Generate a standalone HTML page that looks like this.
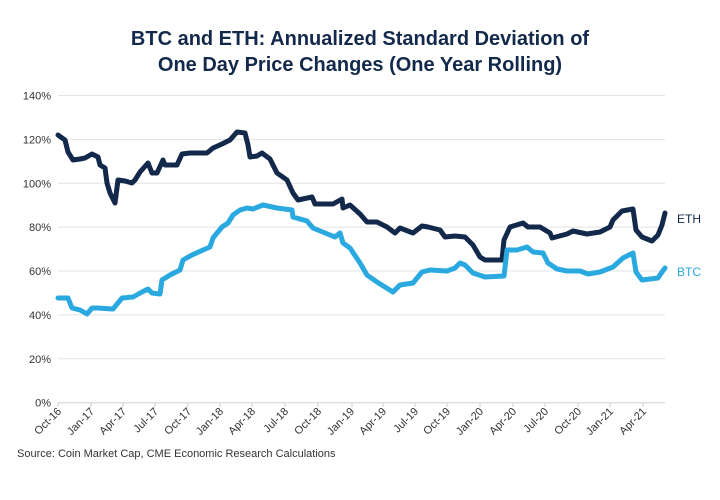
<!DOCTYPE html>
<html><head><meta charset="utf-8"><style>
body{margin:0;background:#fff;}
svg{display:block;font-family:"Liberation Sans",sans-serif;}
</style></head><body>
<svg width="720" height="500" viewBox="0 0 720 500">
<text x="360" y="45" text-anchor="middle" font-size="20" font-weight="bold" fill="#13294b">BTC and ETH: Annualized Standard Deviation of</text>
<text x="360" y="71" text-anchor="middle" font-size="20" font-weight="bold" fill="#13294b">One Day Price Changes (One Year Rolling)</text>
<g stroke="#e3e3e3" stroke-width="1">
<line x1="58" x2="665" y1="95.5" y2="95.5"/><line x1="58" x2="665" y1="139.4" y2="139.4"/>
<line x1="58" x2="665" y1="183.3" y2="183.3"/><line x1="58" x2="665" y1="227.1" y2="227.1"/>
<line x1="58" x2="665" y1="271" y2="271"/><line x1="58" x2="665" y1="314.9" y2="314.9"/>
<line x1="58" x2="665" y1="358.8" y2="358.8"/><line x1="58" x2="665" y1="402.7" y2="402.7" stroke="#d0d0d0"/>
</g>
<g font-size="11" fill="#333" text-anchor="end">
<text x="51" y="99.5">140%</text><text x="51" y="143.4">120%</text><text x="51" y="187.3">100%</text>
<text x="51" y="231.1">80%</text><text x="51" y="275">60%</text><text x="51" y="318.9">40%</text>
<text x="51" y="362.8">20%</text><text x="51" y="406.7">0%</text>
</g>
<g stroke="#ccc" stroke-width="1" id="ticks"></g>
<g font-size="11" fill="#333" text-anchor="end">
<text transform="translate(62,412) rotate(-45)">Oct-16</text>
<text transform="translate(95,412) rotate(-45)">Jan-17</text>
<text transform="translate(127,412) rotate(-45)">Apr-17</text>
<text transform="translate(159,412) rotate(-45)">Jul-17</text>
<text transform="translate(192,412) rotate(-45)">Oct-17</text>
<text transform="translate(224,412) rotate(-45)">Jan-18</text>
<text transform="translate(256,412) rotate(-45)">Apr-18</text>
<text transform="translate(289,412) rotate(-45)">Jul-18</text>
<text transform="translate(322,412) rotate(-45)">Oct-18</text>
<text transform="translate(355,412) rotate(-45)">Jan-19</text>
<text transform="translate(387,412) rotate(-45)">Apr-19</text>
<text transform="translate(419,412) rotate(-45)">Jul-19</text>
<text transform="translate(451,412) rotate(-45)">Oct-19</text>
<text transform="translate(484,412) rotate(-45)">Jan-20</text>
<text transform="translate(517,412) rotate(-45)">Apr-20</text>
<text transform="translate(549,412) rotate(-45)">Jul-20</text>
<text transform="translate(582,412) rotate(-45)">Oct-20</text>
<text transform="translate(614,412) rotate(-45)">Jan-21</text>
<text transform="translate(647,412) rotate(-45)">Apr-21</text>
</g>
<g stroke="#ccc">
<path d="M58 403v4M91 403v4M123 403v4M155 403v4M188 403v4M220 403v4M252 403v4M285 403v4M318 403v4M352 403v4M383 403v4M415 403v4M447 403v4M480 403v4M513 403v4M545 403v4M578 403v4M610 403v4M643 403v4"/>
</g>
<polyline fill="none" stroke="#13294b" stroke-width="5" stroke-linejoin="round" stroke-linecap="round" points="58,135 65,140 68,152 73,160 80,159 85,158 92,154 98,157 100,165 105,168 107,183 110,193 115,203 118,180 125,181 132,183 135,180 140,172 148,163 152,173 157,173 163,160 165,165 177,165 182,154 190,153 207,153 213,148 222,144 230,140 237,132 245,133 248,145 250,157 257,156 262,153 270,159 277,173 287,180 293,193 298,200 312,197 315,204 333,204 342,199 343,208 350,205 360,214 367,222 377,222 387,227 395,233 400,228 413,233 422,226 428,227 440,230 445,237 455,236 465,237 473,245 480,257 485,260 502,260 504,240 510,227 523,223 528,227 540,227 550,233 552,238 567,234 573,231 587,234 600,232 610,227 613,220 622,211 633,209 636,230 642,237 652,241 658,235 662,225 665,213"/>
<polyline fill="none" stroke="#29a9e0" stroke-width="5" stroke-linejoin="round" stroke-linecap="round" points="58,298 68,298 72,308 80,310 87,314 92,308 97,308 113,309 122,298 133,297 142,292 148,289 152,293 160,294 162,280 170,275 180,270 183,260 192,255 203,250 210,247 213,238 222,227 228,223 233,215 240,210 247,208 253,209 263,205 277,208 292,210 293,217 307,221 313,228 330,235 335,237 340,233 343,243 350,248 360,263 367,275 377,282 385,287 393,292 400,285 413,283 422,272 430,270 447,271 455,268 460,263 465,265 473,273 485,277 504,276 507,250 517,250 527,247 533,252 543,253 548,263 557,269 567,271 580,271 588,274 600,272 613,267 623,258 633,253 636,272 642,280 658,278 662,272 665,268"/>
<text x="677" y="223" font-size="12" fill="#13294b">ETH</text>
<text x="677" y="276" font-size="12" fill="#29a9e0">BTC</text>
<text x="17" y="457" font-size="11" fill="#333">Source: Coin Market Cap, CME Economic Research Calculations</text>
</svg>
</body></html>
